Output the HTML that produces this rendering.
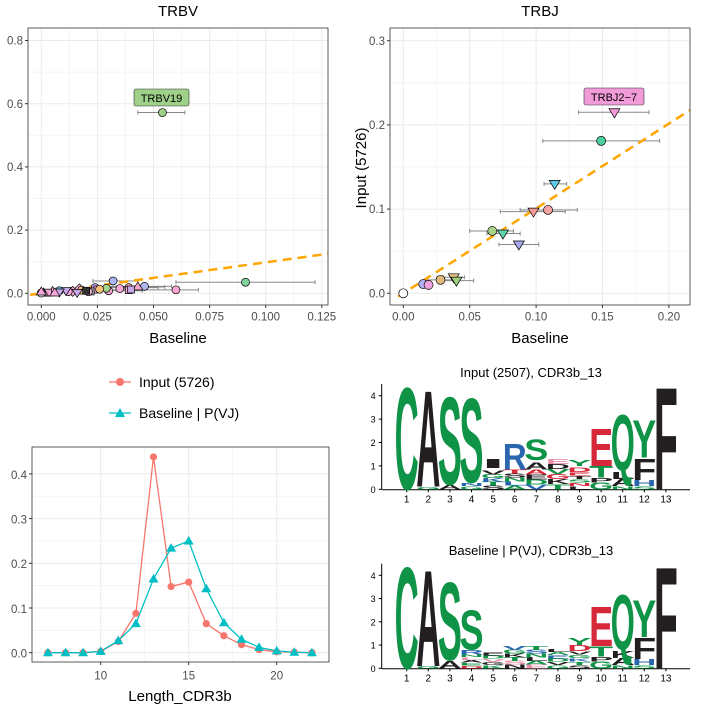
<!DOCTYPE html>
<html><head><meta charset="utf-8"><style>
body{margin:0;background:#fff;}
svg{display:block;font-family:"Liberation Sans",sans-serif;}
.tk{font-size:11.5px;fill:#4d4d4d;}
.ttl{font-size:15px;fill:#000;}
.g{stroke:#ebebeb;stroke-width:1;}
</style></head><body>
<svg id="s" width="701" height="710" viewBox="0 0 701 710" xmlns="http://www.w3.org/2000/svg">
<rect width="701" height="710" fill="#fff"/>
<g id="p1"></g>
<g id="p2"></g>
<g id="p3"></g>
<g id="p4"></g>
<text class="ttl" x="178" y="16" text-anchor="middle">TRBV</text>
<text class="ttl" x="178" y="343" text-anchor="middle" font-size="16">Baseline</text>
<text class="ttl" x="540" y="16" text-anchor="middle">TRBJ</text>
<text class="ttl" x="540" y="343" text-anchor="middle" font-size="16">Baseline</text>
<text class="ttl" x="0" y="0" text-anchor="middle" transform="translate(366,168) rotate(-90)" font-size="16">Input (5726)</text>
<text class="ttl" x="180" y="701" text-anchor="middle" font-size="16">Length_CDR3b</text>
<line x1="109" y1="382" x2="131" y2="382" stroke="#f8766d" stroke-width="1.3"/>
<circle cx="120" cy="382" r="4" fill="#f8766d"/>
<text x="139" y="387" font-size="14">Input (5726)</text>
<line x1="109" y1="413" x2="131" y2="413" stroke="#00bfc4" stroke-width="1.3"/>
<path d="M120,408 L125,417 L115,417Z" fill="#00bfc4"/>
<text x="139" y="418" font-size="14">Baseline | P(VJ)</text>
<text x="531" y="377" text-anchor="middle" font-size="13">Input (2507), CDR3b_13</text>
<text x="531" y="555" text-anchor="middle" font-size="13">Baseline | P(VJ), CDR3b_13</text>
<g id="l1"></g><g id="l2"></g>
</svg>
<script>
const NS="http://www.w3.org/2000/svg";
function el(p,t,a,txt){const e=document.createElementNS(NS,t);for(const k in a)e.setAttribute(k,a[k]);if(txt!==undefined)e.textContent=txt;p.appendChild(e);return e;}
function panel(g,x0,x1,y0,y1,xt,yt,fx,fy,xl,yl,fs){
 fs=fs||11.5;
 el(g,'rect',{x:x0,y:y0,width:x1-x0,height:y1-y0,fill:'#fff'});
 for(let i=0;i<xt.length-1;i++){const px=(fx(xt[i])+fx(xt[i+1]))/2;el(g,'line',{x1:px,x2:px,y1:y0,y2:y1,stroke:'#f5f5f5'});}
 for(let i=0;i<yt.length-1;i++){const py=(fy(yt[i])+fy(yt[i+1]))/2;el(g,'line',{x1:x0,x2:x1,y1:py,y2:py,stroke:'#f5f5f5'});}
 xt.forEach(v=>{const px=fx(v);el(g,'line',{x1:px,x2:px,y1:y0,y2:y1,class:'g'});});
 yt.forEach(v=>{const py=fy(v);el(g,'line',{x1:x0,x2:x1,y1:py,y2:py,class:'g'});});
 xt.forEach((v,i)=>{const px=fx(v);el(g,'line',{x1:px,x2:px,y1:y1,y2:y1+3,stroke:'#333'});el(g,'text',{x:px,y:y1+4+fs,class:'tk','font-size':fs,'text-anchor':'middle'},xl[i]);});
 yt.forEach((v,i)=>{const py=fy(v);el(g,'line',{x1:x0-3,x2:x0,y1:py,y2:py,stroke:'#333'});el(g,'text',{x:x0-5,y:py+fs*0.36,class:'tk','font-size':fs,'text-anchor':'end'},yl[i]);});
}
function border(g,x0,x1,y0,y1){el(g,'rect',{x:x0,y:y0,width:x1-x0,height:y1-y0,fill:'none',stroke:'#333','stroke-width':0.8});}
function pt(g,x,y,sh,c,r){r=r||4.5;
 if(sh=='c')el(g,'circle',{cx:x,cy:y,r:r,fill:c,stroke:'#000','stroke-width':0.7});
 else if(sh=='v')el(g,'path',{d:`M${x-r-1},${y-r+1}L${x+r+1},${y-r+1}L${x},${y+r+1}Z`,fill:c,stroke:'#000','stroke-width':0.7});
 else if(sh=='t')el(g,'path',{d:`M${x},${y-r-1}L${x+r+1},${y+r-1}L${x-r-1},${y+r-1}Z`,fill:c,stroke:'#000','stroke-width':0.7});
 else if(sh=='s')el(g,'rect',{x:x-r+0.5,y:y-r+0.5,width:2*r-1,height:2*r-1,fill:c,stroke:'#000','stroke-width':0.7});
 else if(sh=='d')el(g,'path',{d:`M${x},${y-r-1}L${x+r+1},${y}L${x},${y+r+1}L${x-r-1},${y}Z`,fill:c,stroke:'#000','stroke-width':0.7});
}
function eb(g,a,b,y){el(g,'line',{x1:a,x2:b,y1:y,y2:y,stroke:'#888'});el(g,'line',{x1:a,x2:a,y1:y-2,y2:y+2,stroke:'#888'});el(g,'line',{x1:b,x2:b,y1:y-2,y2:y+2,stroke:'#888'});}
{const g=document.getElementById('p1');const fx=v=>41.3+v/0.025*56.1,fy=v=>293.3-v/0.2*63.2;
 panel(g,28,328,28,305,[0,0.025,0.05,0.075,0.1,0.125],[0,0.2,0.4,0.6,0.8],fx,fy,['0.000','0.025','0.050','0.075','0.100','0.125'],['0.0','0.2','0.4','0.6','0.8']);
 const P=[[0.091,0.035,'c','#7fd39a',0.06,0.122],[0.060,0.011,'c','#f7a8d8',0.03,0.07],[0.046,0.022,'c','#b0b5f0',0.03,0.058],[0.032,0.039,'c','#a9b8f0',0.023,0.043],
 [0.043,0.02,'t','#f4a6c9',0.03,0.055],[0.039,0.018,'c','#f7a9b5',0.03,0.052],[0.039,0.01,'s','#f7a8d8'],[0.030,0.008,'c','#f7a8d8',0.02,0.045],[0.029,0.016,'c','#a8d48a'],[0.024,0.018,'c','#c0a8f0'],
 [0.025,0.012,'s','#f7a8d8'],[0.022,0.006,'s','#aaa'],[0.021,0.005,'c','#f7a8d8'],[0.017,0.014,'d','#f7a8d8'],[0.014,0.006,'d','#f7a8d8'],[0.012,0.005,'c','#f7a8d8'],[0.011,0.009,'v','#c8a8e8'],[0.008,0.008,'c','#6ec6e6'],[0.008,0.004,'v','#c8a8e8'],
 [0.005,0.006,'t','#f7a8d8'],[0.003,0.002,'s','#f7a8d8'],[0.001,0.001,'t','#f7a8d8'],[0,0.001,'c','#fff'],[0.018,0.01,'c','#f5c07d'],[0.026,0.013,'c','#f5c07d'],[0.02,0.008,'s','#333'],[0.035,0.015,'c','#f7a8d8'],[0.04,0.012,'s','#c8a8e8'],[0.0,0.004,'t','#f7a8d8'],[0.006,0.001,'t','#f7a8d8'],[0.016,0.003,'v','#c8a8e8']];
 P.forEach(p=>{if(p[4]!==undefined)eb(g,fx(p[4]),fx(p[5]),fy(p[1]));});
 eb(g,fx(0.043),fx(0.064),fy(0.572));
 el(g,'line',{x1:fx(-0.005),y1:fy(-0.005),x2:328,y2:fy(0.1251),stroke:'#ffa500','stroke-width':2.5,'stroke-dasharray':'9,6'});
 P.forEach(p=>pt(g,fx(p[0]),fy(p[1]),p[2],p[3],4));
 pt(g,fx(0.054),fy(0.572),'c','#9fd08a',4);
 el(g,'rect',{x:134,y:89,width:55,height:17,rx:2,fill:'#9fd08a',stroke:'#333','stroke-width':0.6});
 el(g,'text',{x:161.5,y:102,'text-anchor':'middle','font-size':11},'TRBV19');
 border(g,28,328,28,305);}
{const g=document.getElementById('p2');const fx=v=>403.3+v/0.05*66.4,fy=v=>293.3-v/0.1*84.2;
 panel(g,390,690,28,305,[0,0.05,0.1,0.15,0.2],[0,0.1,0.2,0.3],fx,fy,['0.00','0.05','0.10','0.15','0.20'],['0.0','0.1','0.2','0.3']);
 const P=[[0,0,'c','#fff'],[0.015,0.011,'c','#b3b3f5'],[0.019,0.010,'c','#f5a3e0'],[0.028,0.016,'c','#e0bb7d',0.018,0.04],[0.038,0.019,'v','#e0bb7d',0.03,0.046],[0.040,0.015,'v','#9cce7c',0.03,0.053],
 [0.067,0.074,'c','#a8d48a',0.05,0.083],[0.075,0.071,'v','#5dd4a9',0.063,0.088],[0.087,0.058,'v','#a8a8f0',0.072,0.102],[0.098,0.097,'v','#f59b9b',0.073,0.122],[0.109,0.099,'c','#f5a3a3',0.088,0.131],
 [0.114,0.13,'v','#5ec8e6',0.106,0.123],[0.149,0.181,'c','#4fcfa0',0.105,0.193],[0.159,0.215,'v','#f29bd9',0.132,0.185]];
 P.forEach(p=>{if(p[4]!==undefined)eb(g,fx(p[4]),fx(p[5]),fy(p[1]));});
 el(g,'line',{x1:fx(-0.004),y1:fy(-0.004),x2:690,y2:fy(0.2175),stroke:'#ffa500','stroke-width':2.5,'stroke-dasharray':'9,6'});
 P.forEach(p=>pt(g,fx(p[0]),fy(p[1]),p[2],p[3],4.5));
 el(g,'rect',{x:584,y:88,width:60,height:17,rx:2,fill:'#f29bd9',stroke:'#333','stroke-width':0.6});
 el(g,'text',{x:614,y:101,'text-anchor':'middle','font-size':11},'TRBJ2−7');
 border(g,390,690,28,305);}
{const g=document.getElementById('p3');const fx=v=>100.7+(v-10)*17.6,fy=v=>652.7-v/0.1*44.7;
 panel(g,32,329,447,662,[10,15,20],[0,0.1,0.2,0.3,0.4],fx,fy,['10','15','20'],['0.0','0.1','0.2','0.3','0.4'],13.5);
 const xs=[7,8,9,10,11,12,13,14,15,16,17,18,19,20,21,22];
 const a=[0,0,0,0.003,0.025,0.088,0.438,0.148,0.158,0.065,0.038,0.018,0.007,0.002,0.001,0];
 const b=[0,0,0,0.003,0.027,0.065,0.165,0.234,0.25,0.143,0.067,0.03,0.012,0.004,0.001,0];
 el(g,'polyline',{points:xs.map((x,i)=>fx(x)+','+fy(a[i])).join(' '),fill:'none',stroke:'#f8766d','stroke-width':1.3});
 el(g,'polyline',{points:xs.map((x,i)=>fx(x)+','+fy(b[i])).join(' '),fill:'none',stroke:'#00bfc4','stroke-width':1.3});
 xs.forEach((x,i)=>el(g,'circle',{cx:fx(x),cy:fy(a[i]),r:3.6,fill:'#f8766d'}));
 xs.forEach((x,i)=>{const X=fx(x),Y=fy(b[i]);el(g,'path',{d:`M${X},${Y-5}L${X+5},${Y+3.5}L${X-5},${Y+3.5}Z`,fill:'#00bfc4'});});
 border(g,32,329,447,662);}
const CL={g:'#0f9447',k:'#231f20',b:'#2a66ae',r:'#d7283a',p:'#e58fa9'};
function logo(id,y0,u,stacks){const g=document.getElementById(id);const xa=381.7,x1=406.7,dx=21.6;
 el(g,'line',{x1:xa,x2:xa,y1:y0-4.5*u,y2:y0,stroke:'#000'});
 el(g,'line',{x1:xa,x2:690,y1:y0+0.5,y2:y0+0.5,stroke:'#000'});
 for(let v=0;v<=4;v++){el(g,'line',{x1:xa-3,x2:xa,y1:y0-v*u,y2:y0-v*u,stroke:'#000'});el(g,'text',{x:xa-6,y:y0-v*u+3.5,'font-size':9,'text-anchor':'end'},String(v));}
 stacks.forEach((st,i)=>{const cx=x1+i*dx;el(g,'line',{x1:cx,x2:cx,y1:y0,y2:y0+3,stroke:'#000'});el(g,'text',{x:cx,y:y0+13,'font-size':10,'text-anchor':'middle'},String(i+1));
  let h=0;st.forEach(([L,ht,c])=>{const hp=ht*u;if(L!='_'){const sy=hp/7.2;
   el(g,'text',{x:0,y:0,'font-size':10,'font-weight':'bold',fill:CL[c],textLength:24,lengthAdjust:'spacingAndGlyphs',transform:`translate(${cx-12},${y0-h*u}) scale(1,${sy})`},L);}
   h+=ht;});});
}
const junk=(n,t,s)=>{const Ls='GSAVTLDKNE',cs='gkgbgkrgkp';const a=[];for(let i=0;i<n;i++)a.push([Ls[(i*3+s)%10],t/n,cs[(i+s)%10]]);return a;};
logo('l1',489.3,23.4,[
 [['C',4.5,'g']],
 [['G',0.12,'g'],['A',4.23,'k']],
 [['A',0.2,'k'],['S',3.85,'g']],
 [['G',0.15,'g'],['N',0.13,'b'],['S',3.7,'g']],
 junk(5,0.8,1).concat([['_',0.1],['I',0.4,'k']]),
 junk(5,0.85,2).concat([['R',1.15,'b']]),
 junk(4,0.85,3).concat([['A',0.3,'k'],['_',0.1],['S',0.9,'g']]),
 junk(6,1.3,4),
 junk(4,0.6,5).concat([['E',0.15,'r'],['D',0.2,'r'],['_',0.05],['Y',0.25,'g']]),
 [['G',0.3,'g'],['P',0.2,'k'],['T',0.5,'g'],['E',1.65,'r']],
 [['N',0.15,'g'],['A',0.3,'k'],['L',0.3,'k'],['_',0.05],['Q',2.45,'g']],
 [['S',0.15,'g'],['H',0.25,'b'],['F',0.95,'k'],['Y',1.65,'g']],
 [['F',4.5,'k']]]);
logo('l2',668.3,23.25,[
 [['C',4.5,'g']],
 [['G',0.1,'g'],['A',4.25,'k']],
 [['A',0.35,'k'],['S',3.45,'g']],
 junk(5,0.6,6).concat([['R',0.2,'b'],['S',1.75,'g']]),
 junk(5,0.7,7),
 junk(6,0.95,8),
 junk(6,0.95,9),
 junk(6,0.85,0),
 junk(5,0.75,1).concat([['D',0.25,'r'],['Y',0.3,'g']]),
 [['G',0.3,'g'],['P',0.2,'k'],['T',0.45,'g'],['E',1.75,'r']],
 [['N',0.15,'g'],['A',0.3,'k'],['K',0.3,'k'],['_',0.05],['Q',2.45,'g']],
 [['S',0.15,'g'],['H',0.25,'b'],['F',0.95,'k'],['Y',1.65,'g']],
 [['F',4.5,'k']]]);
</script>
</body></html>
